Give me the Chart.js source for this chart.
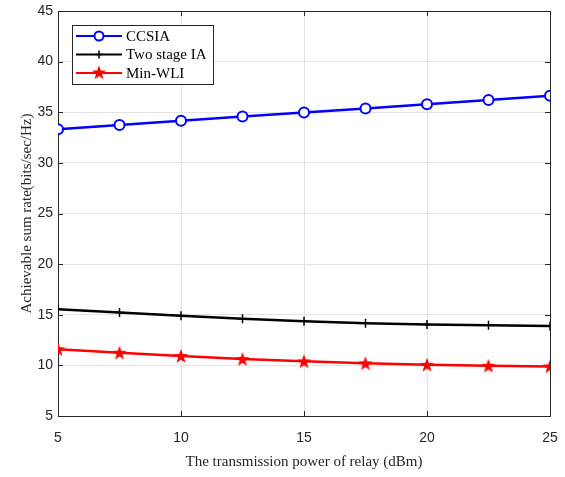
<!DOCTYPE html>
<html>
<head>
<meta charset="utf-8">
<script src="https://cdn.jsdelivr.net/npm/chart.js@4.4.0/dist/chart.umd.min.js"></script>
<style>
  body { margin: 0; background: #fff; }
  #wrap { width: 565px; height: 477px; }
</style>
</head>
<body>
<div id="wrap"><canvas id="c" width="565" height="477"></canvas></div>
<script>
// transmission power of relay (dBm)
var power = [5, 7.5, 10, 12.5, 15, 17.5, 20, 22.5, 25];

// achievable sum rate (bits/sec/Hz)
var ccsia = [33.32, 33.74, 34.15, 34.57, 34.98, 35.37, 35.79, 36.21, 36.62];
var twoStage = [15.55, 15.22, 14.9, 14.6, 14.36, 14.17, 14.04, 13.96, 13.9];
var minWli = [11.6, 11.25, 10.93, 10.62, 10.4, 10.2, 10.06, 9.96, 9.9];

var xTicks = [5, 10, 15, 20, 25];
var yTicks = [5, 10, 15, 20, 25, 30, 35, 40, 45];

var names = ['CCSIA', 'Two stage IA', 'Min-WLI'];
var colors = ['#0000ff', '#000000', '#ff0000'];

function pts(ys) {
    return power.map(function (p, i) { return { x: p, y: ys[i] }; });
}

// filled red star, MATLAB style
function starPath(ctx, cx, cy, R, r) {
    ctx.beginPath();
    for (var k = 0; k < 10; k++) {
        var rad = k % 2 ? r : R;
        var a = -Math.PI / 2 + k * Math.PI / 5;
        ctx.lineTo(cx + rad * Math.cos(a), cy + rad * Math.sin(a));
    }
    ctx.closePath();
}
var starImg = document.createElement('canvas');
starImg.width = 16; starImg.height = 16;
(function () {
    var s = starImg.getContext('2d');
    starPath(s, 8, 8.6, 7.6, 3.1);
    s.fillStyle = '#ff0000';
    s.fill();
})();

var serif = "'Liberation Serif', 'Times New Roman', serif";
var sans = "'Liberation Sans', Arial, sans-serif";

// box + inward ticks like matlab
var frame = {
    id: 'frame',
    beforeDatasetsDraw: function (chart) {
        var ctx = chart.ctx, a = chart.chartArea;
        var x = chart.scales.x, y = chart.scales.y;
        ctx.save();
        ctx.strokeStyle = '#262626';
        ctx.lineWidth = 1;
        ctx.strokeRect(Math.round(a.left) + 0.5, Math.round(a.top) + 0.5,
            Math.round(a.right - a.left), Math.round(a.bottom - a.top));
        ctx.beginPath();
        xTicks.forEach(function (v) {
            var px = Math.round(x.getPixelForValue(v)) + 0.5;
            ctx.moveTo(px, a.bottom); ctx.lineTo(px, a.bottom - 5);
            ctx.moveTo(px, a.top); ctx.lineTo(px, a.top + 5);
        });
        yTicks.forEach(function (v) {
            var py = Math.round(y.getPixelForValue(v)) + 0.5;
            ctx.moveTo(a.left, py); ctx.lineTo(a.left + 5, py);
            ctx.moveTo(a.right, py); ctx.lineTo(a.right - 5, py);
        });
        ctx.stroke();
        ctx.restore();
    }
};

// legend box inside the plot, top left
var legendBox = {
    id: 'legendBox',
    afterDraw: function (chart) {
        var ctx = chart.ctx;
        var bx = 72, by = 25, bw = 141, bh = 59;
        ctx.save();
        ctx.fillStyle = '#fff';
        ctx.fillRect(bx, by, bw, bh);
        ctx.strokeStyle = '#262626';
        ctx.lineWidth = 1;
        ctx.strokeRect(bx + 0.5, by + 0.5, bw, bh);
        ctx.font = '15px ' + serif;
        ctx.textBaseline = 'middle';
        var rows = [36, 54.5, 73];
        names.forEach(function (n, i) {
            var yy = rows[i];
            ctx.strokeStyle = colors[i];
            ctx.lineWidth = 2;
            ctx.beginPath();
            ctx.moveTo(76, yy); ctx.lineTo(122, yy);
            ctx.stroke();
            if (i === 0) {
                ctx.beginPath();
                ctx.arc(99, yy, 4.5, 0, Math.PI * 2);
                ctx.fillStyle = '#fff';
                ctx.fill();
                ctx.stroke();
            } else if (i === 1) {
                ctx.lineWidth = 1.5;
                ctx.beginPath();
                ctx.moveTo(99, yy - 4); ctx.lineTo(99, yy + 4);
                ctx.moveTo(95, yy); ctx.lineTo(103, yy);
                ctx.stroke();
            } else {
                ctx.drawImage(starImg, 91, yy - 8.6);
            }
            ctx.fillStyle = '#000';
            ctx.fillText(n, 126, yy + 1);
        });
        ctx.restore();
    }
};

var sets = [ccsia, twoStage, minWli].map(function (ys, i) {
    return {
        label: names[i],
        data: pts(ys),
        borderColor: colors[i],
        backgroundColor: i === 0 ? '#ffffff' : colors[i],
        borderWidth: 2.5,
        pointStyle: ['circle', 'cross', starImg][i],
        pointRadius: [5, 4.5, 8][i],
        pointBorderWidth: [2, 1.5, 0][i],
        pointHoverRadius: [5, 4.5, 8][i],
        tension: 0,
        fill: false
    };
});

new Chart(document.getElementById('c'), {
    type: 'line',
    data: { datasets: sets },
    options: {
        responsive: false,
        animation: false,
        events: [],
        layout: { padding: { top: 11, right: 15, left: 0, bottom: 0 } },
        plugins: {
            legend: { display: false },
            tooltip: { enabled: false }
        },
        scales: {
            x: {
                type: 'linear',
                min: 5, max: 25,
                afterFit: function (s) { s.height = 61; s.paddingLeft = 0; s.paddingRight = 0; },
                afterBuildTicks: function (s) { s.ticks = xTicks.map(function (v) { return { value: v }; }); },
                grid: { color: '#e3e3e3', drawTicks: false },
                border: { display: false },
                ticks: { color: '#262626', padding: 14, font: { family: sans, size: 14 }, maxRotation: 0 },
                title: {
                    display: true,
                    text: 'The transmission power of relay (dBm)',
                    color: '#262626',
                    font: { family: serif, size: 15 },
                    padding: { top: 0, bottom: 6 }
                }
            },
            y: {
                type: 'linear',
                min: 5, max: 45,
                afterFit: function (s) { s.width = 58; s.paddingTop = 0; s.paddingBottom = 0; },
                afterBuildTicks: function (s) { s.ticks = yTicks.map(function (v) { return { value: v }; }); },
                grid: { color: '#e3e3e3', drawTicks: false },
                border: { display: false },
                ticks: { color: '#262626', padding: 5, font: { family: sans, size: 14 } },
                title: {
                    display: true,
                    text: 'Achievable sum rate(bits/sec/Hz)',
                    color: '#262626',
                    font: { family: serif, size: 15 },
                    padding: { top: 18, bottom: 0 }
                }
            }
        }
    },
    plugins: [frame, legendBox]
});
</script>
</body>
</html>
